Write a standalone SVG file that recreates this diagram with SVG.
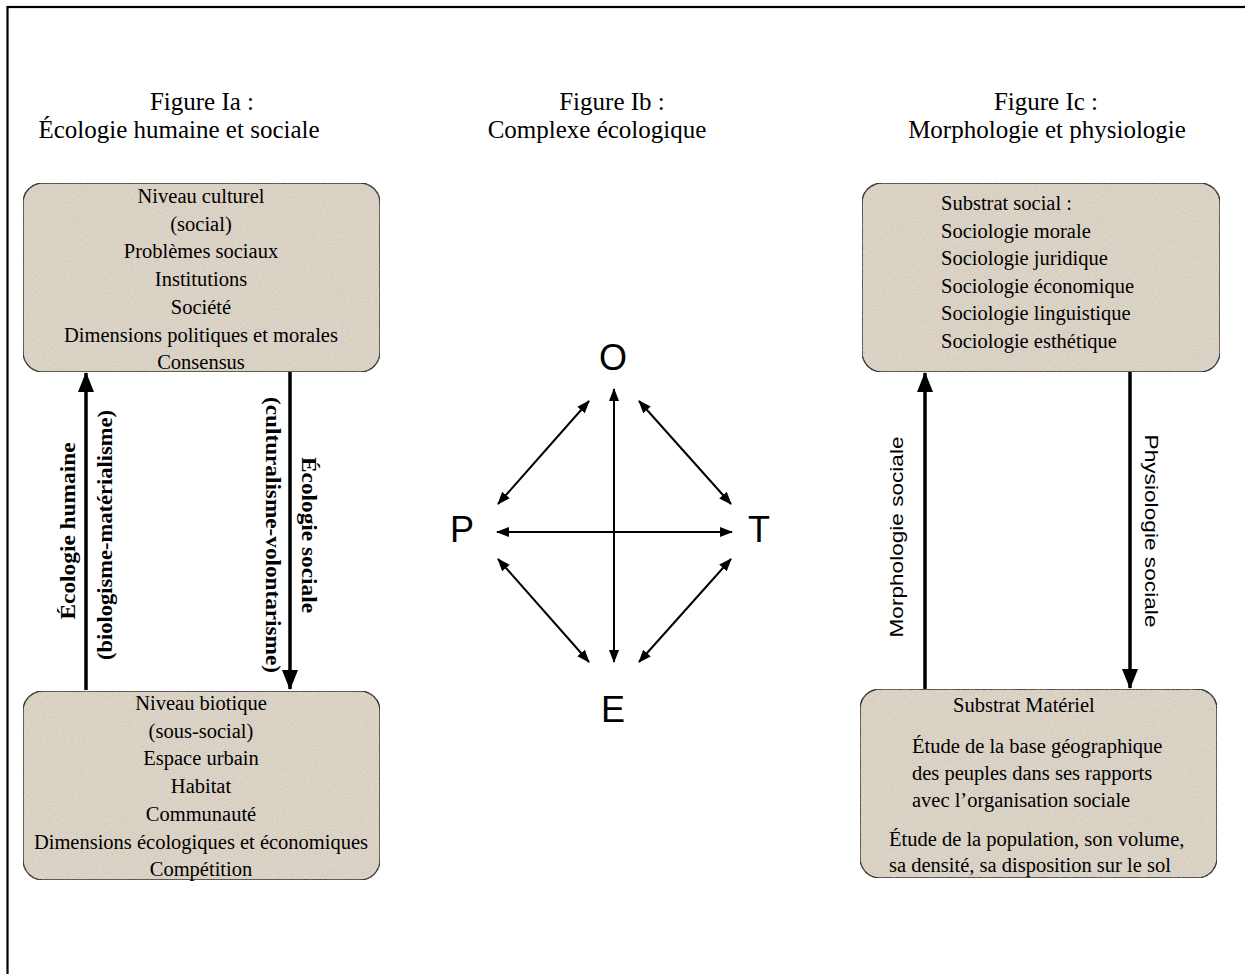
<svg xmlns="http://www.w3.org/2000/svg" width="1245" height="974" viewBox="0 0 1245 974">
  <style>
    .title { font-family: "Liberation Serif", "Times New Roman", serif; font-size: 25px; fill: #000; text-anchor: middle; }
    .body { font-family: "Liberation Serif", "Times New Roman", serif; font-size: 20.5px; fill: #000; }
    .mid { text-anchor: middle; }
    .vbold { font-family: "Liberation Serif", "Times New Roman", serif; font-size: 20px; font-weight: bold; fill: #000; text-anchor: middle; }
    .vsans { font-family: "Liberation Sans", Arial, sans-serif; font-size: 19px; fill: #000; text-anchor: middle; }
    .letter { font-family: "Liberation Sans", Arial, sans-serif; font-size: 36px; fill: #000; }
    .box { fill: #ded6c9; stroke: #222; stroke-width: 1.4; }
    .thick { stroke: #000; stroke-width: 3.5; fill: none; }
    .thin { stroke: #000; stroke-width: 2; fill: none; }
  </style>
  <defs>
    <filter id="paper" x="0" y="0" width="100%" height="100%">
      <feTurbulence type="fractalNoise" baseFrequency="0.75" numOctaves="3" seed="7" result="noise"/>
      <feColorMatrix in="noise" type="matrix" values="0 0 0 0 0.45  0 0 0 0 0.40  0 0 0 0 0.33  0.8 0 0 0 -0.30" result="spk"/>
      <feComposite in="spk" in2="SourceGraphic" operator="in" result="clipped"/>
      <feMerge><feMergeNode in="SourceGraphic"/><feMergeNode in="clipped"/></feMerge>
    </filter>
    <marker id="bighead" viewBox="0 0 20 16" refX="19" refY="8" markerWidth="20" markerHeight="16" markerUnits="userSpaceOnUse" orient="auto-start-reverse">
      <path d="M0,0 L20,8 L0,16 Z" fill="#000"/>
    </marker>
    <marker id="head" viewBox="0 0 13 10" refX="12" refY="5" markerWidth="13" markerHeight="10" markerUnits="userSpaceOnUse" orient="auto-start-reverse">
      <path d="M0,0 L13,5 L0,10 Z" fill="#000"/>
    </marker>
  </defs>

  <rect x="7.5" y="7" width="1260" height="1000" fill="#fff" stroke="#000" stroke-width="2.2"/>

  <!-- Titles -->
  <g id="title-a">
    <text class="title" x="202" y="110">Figure Ia :</text>
    <text class="title" x="179" y="138">Écologie humaine et sociale</text>
  </g>
  <g id="title-b">
    <text class="title" x="612" y="110">Figure Ib :</text>
    <text class="title" x="597" y="138">Complexe écologique</text>
  </g>
  <g id="title-c">
    <text class="title" x="1046" y="110">Figure Ic :</text>
    <text class="title" x="1047" y="138">Morphologie et physiologie</text>
  </g>

  <!-- Figure Ia nodes -->
  <g id="niveau-culturel">
    <rect class="box" x="23" y="183" width="357" height="189" rx="20" filter="url(#paper)"/>
    <text class="body mid" x="201" y="203">Niveau culturel</text>
    <text class="body mid" x="201" y="230.7">(social)</text>
    <text class="body mid" x="201" y="258.4">Problèmes sociaux</text>
    <text class="body mid" x="201" y="286.1">Institutions</text>
    <text class="body mid" x="201" y="313.8">Société</text>
    <text class="body mid" x="201" y="341.5">Dimensions politiques et morales</text>
    <text class="body mid" x="201" y="369.2">Consensus</text>
  </g>
  <g id="niveau-biotique">
    <rect class="box" x="23" y="691" width="357" height="189" rx="20" filter="url(#paper)"/>
    <text class="body mid" x="201" y="710">Niveau biotique</text>
    <text class="body mid" x="201" y="737.7">(sous-social)</text>
    <text class="body mid" x="201" y="765.4">Espace urbain</text>
    <text class="body mid" x="201" y="793.1">Habitat</text>
    <text class="body mid" x="201" y="820.8">Communauté</text>
    <text class="body mid" x="201" y="848.5">Dimensions écologiques et économiques</text>
    <text class="body mid" x="201" y="876.2">Compétition</text>
  </g>

  <!-- Figure Ic nodes -->
  <g id="substrat-social">
    <rect class="box" x="862" y="183" width="358" height="189" rx="20" filter="url(#paper)"/>
    <text class="body" x="941" y="210">Substrat social :</text>
    <text class="body" x="941" y="237.6">Sociologie morale</text>
    <text class="body" x="941" y="265.2">Sociologie juridique</text>
    <text class="body" x="941" y="292.8">Sociologie économique</text>
    <text class="body" x="941" y="320.4">Sociologie linguistique</text>
    <text class="body" x="941" y="348">Sociologie esthétique</text>
  </g>
  <g id="substrat-materiel">
    <rect class="box" x="860" y="689" width="357" height="189" rx="20" filter="url(#paper)"/>
    <text class="body" x="953" y="712">Substrat Matériel</text>
    <text class="body" x="912" y="753">Étude de la base géographique</text>
    <text class="body" x="912" y="780">des peuples dans ses rapports</text>
    <text class="body" x="912" y="807">avec l’organisation sociale</text>
    <text class="body" x="889" y="846">Étude de la population, son volume,</text>
    <text class="body" x="889" y="872">sa densité, sa disposition sur le sol</text>
  </g>

  <!-- Figure Ib nodes -->
  <g id="node-O"><text class="letter" x="613" y="370" text-anchor="middle">O</text></g>
  <g id="node-P"><text class="letter" x="450" y="542">P</text></g>
  <g id="node-T"><text class="letter" x="759" y="542" text-anchor="middle">T</text></g>
  <g id="node-E"><text class="letter" x="613" y="722" text-anchor="middle">E</text></g>

  <!-- Connectors -->
  <g id="connectors">
    <line class="thick" x1="86" y1="690" x2="86" y2="373" marker-end="url(#bighead)"/>
    <line class="thick" x1="290" y1="372" x2="290" y2="689" marker-end="url(#bighead)"/>
    <line class="thick" x1="925" y1="689" x2="925" y2="373" marker-end="url(#bighead)"/>
    <line class="thick" x1="1130" y1="372" x2="1130" y2="688" marker-end="url(#bighead)"/>

    <line class="thin" x1="614" y1="389" x2="614" y2="662" marker-start="url(#head)" marker-end="url(#head)"/>
    <line class="thin" x1="497" y1="532" x2="732" y2="532" marker-start="url(#head)" marker-end="url(#head)"/>
    <line class="thin" x1="498" y1="504" x2="589" y2="401" marker-start="url(#head)" marker-end="url(#head)"/>
    <line class="thin" x1="639" y1="401" x2="731" y2="504" marker-start="url(#head)" marker-end="url(#head)"/>
    <line class="thin" x1="498" y1="559" x2="589" y2="662" marker-start="url(#head)" marker-end="url(#head)"/>
    <line class="thin" x1="731" y1="559" x2="639" y2="662" marker-start="url(#head)" marker-end="url(#head)"/>

    <text class="vbold" transform="translate(75,531) rotate(-90)" textLength="177" lengthAdjust="spacingAndGlyphs">Écologie humaine</text>
    <text class="vbold" transform="translate(112,535) rotate(-90)" textLength="250" lengthAdjust="spacingAndGlyphs">(biologisme-matérialisme)</text>
    <text class="vbold" transform="translate(302,535) rotate(90)" textLength="156" lengthAdjust="spacingAndGlyphs">Écologie sociale</text>
    <text class="vbold" transform="translate(266,535) rotate(90)" textLength="276" lengthAdjust="spacingAndGlyphs">(culturalisme-volontarisme)</text>
    <text class="vsans" transform="translate(903,537) rotate(-90)" textLength="201" lengthAdjust="spacingAndGlyphs">Morphologie sociale</text>
    <text class="vsans" transform="translate(1145,531) rotate(90)" textLength="193" lengthAdjust="spacingAndGlyphs">Physiologie sociale</text>
  </g>
</svg>
